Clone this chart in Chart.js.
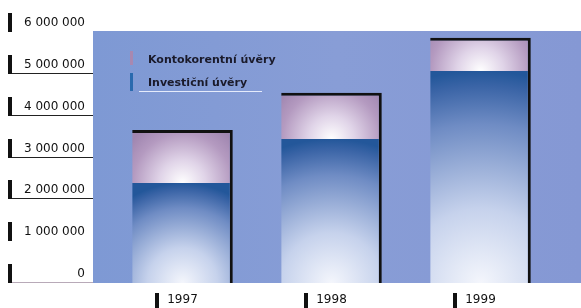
<!DOCTYPE html>
<html>
<head>
<meta charset="utf-8">
<script src="https://cdn.jsdelivr.net/npm/chart.js@4/dist/chart.umd.min.js"></script>
<style>
  html, body { margin: 0; padding: 0; background: #fff; }
  #wrap { width: 581px; height: 308px; }
</style>
</head>
<body>
<div id="wrap"><canvas id="myChart" width="581" height="308"></canvas></div>
<script>
// chart data
const years = ['1997', '1998', '1999'];
const investicni = [2390000, 3440000, 5070000];
const kontokorentni = [1270000, 1110000, 790000];
const yTickLabels = ['0', '1 000 000', '2 000 000', '3 000 000', '4 000 000', '5 000 000', '6 000 000'];

const FONT = '"DejaVu Sans", sans-serif';

// gradient fill for a bar segment, built from the scales
function segmentFill(context, lower, upper, kind) {
  const chart = context.chart;
  const { ctx, chartArea, scales } = chart;
  if (!chartArea) return kind === 'konto' ? '#b8a0c0' : '#4a74b0';
  const i = context.dataIndex;
  const x = scales.x.getPixelForValue(i);
  const yB = scales.y.getPixelForValue(lower[i]);
  const yT = scales.y.getPixelForValue(upper[i]);
  const h = yB - yT;
  if (kind === 'konto') {
    const g = ctx.createRadialGradient(x, yB, 0, x, yB, Math.max(h, 60) * 1.1);
    g.addColorStop(0, '#ffffff');
    g.addColorStop(0.35, '#e0d4e8');
    g.addColorStop(0.75, '#b49ac0');
    g.addColorStop(1, '#a086b0');
    return g;
  }
  const g = ctx.createRadialGradient(x, yB, 0, x, yB, h);
  g.addColorStop(0, '#f4f6fc');
  g.addColorStop(0.35, '#c6d2ec');
  g.addColorStop(0.75, '#6f8cc4');
  g.addColorStop(0.93, '#3a64a6');
  g.addColorStop(1, '#23579a');
  return g;
}

const zeros = years.map(() => 0);
const totals = years.map((y, i) => investicni[i] + kontokorentni[i]);

// blue plot background, y-axis marks, x-axis marks and legend
const decorPlugin = {
  id: 'decor',
  beforeDraw(chart) {
    const { ctx, chartArea } = chart;
    ctx.save();
    const bg = ctx.createLinearGradient(93, 0, 581, 0);
    bg.addColorStop(0, '#7e99d4');
    bg.addColorStop(0.5, '#889dd6');
    bg.addColorStop(1, '#8598d4');
    ctx.fillStyle = bg;
    ctx.fillRect(93, chartArea.top - 1, 581 - 93, chartArea.bottom - chartArea.top + 1);
    ctx.restore();
  },
  afterDraw(chart) {
    const { ctx, scales, chartArea } = chart;
    ctx.save();
    // y tick markers and underlines (only some are drawn in the original)
    yTickLabels.forEach((lab, i) => {
      const y = Math.round(scales.y.getPixelForValue(i * 1000000));
      ctx.fillStyle = '#111';
      ctx.fillRect(8, y - 19, 4, 19);
      if (i >= 2 && i <= 5) {
        ctx.fillStyle = '#222';
        ctx.fillRect(12, y - 1, 81, 1);
      } else if (i === 0) {
        ctx.fillStyle = '#b8aab8';
        ctx.fillRect(12, y - 1, 81, 1);
      }
    });
    // x tick markers
    years.forEach((yr, i) => {
      const x = Math.round(scales.x.getPixelForValue(i));
      ctx.fillStyle = '#111';
      ctx.fillRect(x - 28, chartArea.bottom + 10, 4, 16);
    });
    // legend
    const ds = chart.data.datasets;
    const items = [
      { label: ds[1].label, color: '#a888b0', y: 60, top: 51, h: 14 },
      { label: ds[0].label, color: '#2a6aae', y: 83, top: 73, h: 18 }
    ];
    ctx.font = 'bold 11px ' + FONT;
    ctx.textBaseline = 'middle';
    items.forEach(it => {
      ctx.fillStyle = it.color;
      ctx.fillRect(130, it.top, 3, it.h);
      ctx.fillStyle = '#1a1a2a';
      ctx.fillText(it.label, 148, it.y);
    });
    ctx.fillStyle = 'rgba(240,244,255,0.9)';
    ctx.fillRect(139, 91, 123, 1);
    ctx.restore();
  }
};

const ctx = document.getElementById('myChart').getContext('2d');

new Chart(ctx, {
  type: 'bar',
  data: {
    labels: years,
    datasets: [
      {
        label: 'Investiční úvěry',
        data: investicni,
        backgroundColor: (c) => segmentFill(c, zeros, investicni, 'invest'),
        borderColor: '#111',
        borderWidth: { top: 0, right: 3, bottom: 0, left: 0 },
        borderSkipped: false
      },
      {
        label: 'Kontokorentní úvěry',
        data: kontokorentni,
        backgroundColor: (c) => segmentFill(c, investicni, totals, 'konto'),
        borderColor: '#111',
        borderWidth: { top: 3, right: 3, bottom: 0, left: 0 },
        borderSkipped: false
      }
    ]
  },
  options: {
    responsive: false,
    animation: false,
    layout: { padding: { top: 32, right: 26, left: 0, bottom: 0 } },
    datasets: {
      bar: { barPercentage: 1, categoryPercentage: 0.675 }
    },
    plugins: {
      legend: { display: false },
      tooltip: { enabled: false }
    },
    scales: {
      x: {
        stacked: true,
        grid: { display: false, drawTicks: false },
        border: { display: false },
        ticks: { color: '#111', font: { family: FONT, size: 12 }, padding: 10 },
        afterFit: (axis) => { axis.height = 25; }
      },
      y: {
        stacked: true,
        min: 0,
        max: 6000000,
        grid: { display: false, drawTicks: false },
        border: { display: false },
        ticks: {
          stepSize: 1000000,
          color: '#111',
          font: { family: FONT, size: 12 },
          padding: 23,
          labelOffset: -9,
          callback: (v, i) => yTickLabels[i]
        },
        afterFit: (axis) => {
          axis.width = 108;
          axis.paddingTop = 0;
          axis.paddingBottom = 0;
        }
      }
    }
  },
  plugins: [decorPlugin]
});
</script>
</body>
</html>
